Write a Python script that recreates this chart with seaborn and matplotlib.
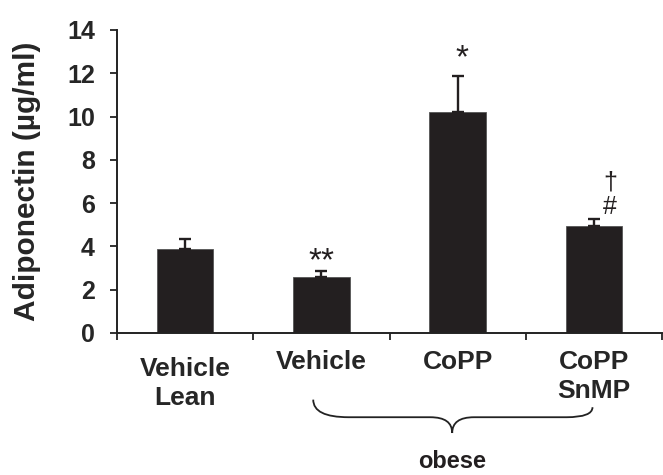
import pandas as pd
import seaborn as sns
import matplotlib.pyplot as plt
from matplotlib.path import Path
from matplotlib.patches import PathPatch
from matplotlib.transforms import blended_transform_factory, ScaledTranslation

groups = ['Vehicle\nLean', 'Vehicle', 'CoPP', 'CoPP\nSnMP']
adiponectin = [3.90, 2.57, 10.19, 4.96]
sem = [0.44, 0.29, 1.68, 0.31]
sig_marks = [[], ['**'], ['*'], ['#', '†']]
y_ticks = [0, 2, 4, 6, 8, 10, 12, 14]

BAR = '#231f20'


def main():
    sns.set_style('ticks')
    plt.rcParams['font.family'] = ['Liberation Sans', 'DejaVu Sans']
    df = pd.DataFrame({'group': groups, 'adiponectin': adiponectin, 'sem': sem})

    fig = plt.figure(figsize=(6.63, 4.75), dpi=100)
    ax = fig.add_axes([0.1765, 0.299, 0.822, 0.638])

    sns.barplot(data=df, x='group', y='adiponectin', color=BAR,
                saturation=1, width=0.416, edgecolor='#555555',
                linewidth=0.6, errorbar=None, ax=ax)
    ax.errorbar(range(len(groups)), df['adiponectin'],
                yerr=[[0] * len(sem), df['sem']], fmt='none', ecolor=BAR,
                elinewidth=1.7, capsize=4, capthick=1.7, zorder=3)

    add_marks(ax)
    style_axes(ax)
    draw_brace(ax)

    fig.savefig('out.png', dpi=100)
    plt.close()


def add_marks(ax):
    # offsets above the error bar top, in data units
    offsets = {'**': 0.42, '*': 0.8, '#': 0.55, '†': 1.7}
    sizes = {'**': 24, '*': 24, '#': 18, '†': 18}
    shift = {'**': 0.0, '*': 0.03, '#': 0.12, '†': 0.12}
    for i, marks in enumerate(sig_marks):
        top = adiponectin[i] + sem[i]
        for m in marks:
            ax.text(i + shift[m], top + offsets[m], m, ha='center',
                    va='center', fontsize=sizes[m], color=BAR)


def style_axes(ax):
    ax.set_xlim(-0.5, len(groups) - 0.5)
    ax.set_ylim(0, 14)
    ax.set_yticks(y_ticks)
    ax.set_yticklabels([str(t) for t in y_ticks], fontsize=18,
                       fontweight='bold')
    ax.set_xticks(range(len(groups)))
    ax.set_xticklabels(groups, fontsize=19, fontweight='bold',
                       linespacing=1.25)
    ax.set_xticks([i - 0.5 for i in range(len(groups) + 1)], minor=True)
    ax.tick_params(axis='x', which='major', length=0, pad=12.5)
    ax.tick_params(axis='x', which='minor', length=5, width=1.3,
                   color='#222222', direction='out')
    ax.tick_params(axis='y', length=5, width=1.3, color='#222222',
                   direction='out', pad=11)
    # the lean label sits a bit lower than the others
    lab = ax.get_xticklabels()[0]
    lab.set_transform(lab.get_transform() +
                      ScaledTranslation(0, -5 / 72, ax.figure.dpi_scale_trans))

    ax.set_xlabel('')
    ax.set_ylabel('Adiponectin (µg/ml)', fontsize=21.5, fontweight='bold')
    ax.yaxis.set_label_coords(-0.14, 0.5)
    sns.despine(ax=ax)
    for s in ['left', 'bottom']:
        ax.spines[s].set_linewidth(1.4)
        ax.spines[s].set_color('#222222')


def draw_brace(ax):
    tr = blended_transform_factory(ax.transData, ax.transAxes)
    x0, xm, x1 = 0.94, 1.96, 2.99
    y_end0, y_end1, y_line, y_tip = -0.22, -0.245, -0.278, -0.33
    r0, rm, r1 = 0.26, 0.16, 0.19
    verts = [
        (x0, y_end0), (x0, y_line), (x0 + r0, y_line),
        (xm - rm, y_line),
        (xm, y_line), (xm, y_tip),
        (xm, y_line), (xm + rm, y_line),
        (x1 - r1, y_line),
        (x1, y_line), (x1, y_end1),
    ]
    codes = [Path.MOVETO, Path.CURVE3, Path.CURVE3, Path.LINETO,
             Path.CURVE3, Path.CURVE3, Path.CURVE3, Path.CURVE3,
             Path.LINETO, Path.CURVE3, Path.CURVE3]
    ax.add_patch(PathPatch(Path(verts, codes), transform=tr, fill=False,
                           lw=1.3, edgecolor='#222222', clip_on=False))
    ax.text(xm, -0.425, 'obese', transform=tr, ha='center', va='center',
            fontsize=17, fontweight='bold', color=BAR)


main()
